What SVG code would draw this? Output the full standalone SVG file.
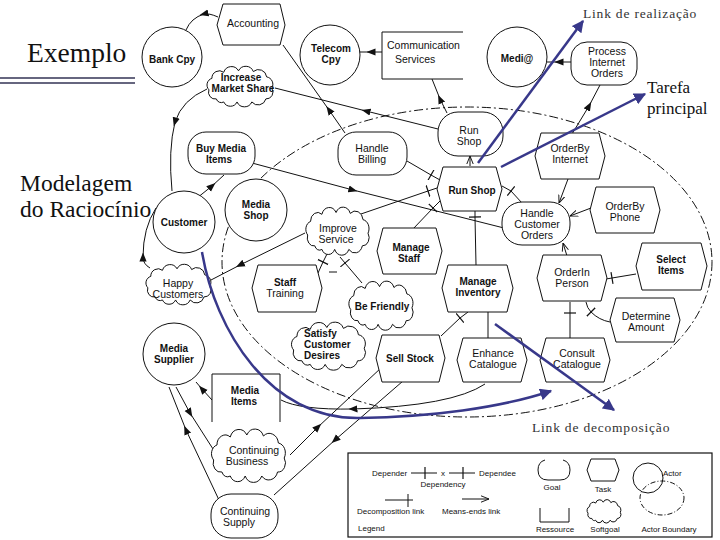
<svg xmlns="http://www.w3.org/2000/svg" xmlns:xlink="http://www.w3.org/1999/xlink" width="720" height="540" viewBox="0 0 720 540">
<style>
.s{fill:#fff;stroke:#111;stroke-width:1}
.n{fill:none;stroke:#111;stroke-width:1}
.t{font-family:"Liberation Sans",Arial,sans-serif;font-size:10.5px;text-anchor:middle;fill:#111}
.b{font-weight:bold;font-size:10px}
.st{text-anchor:start}
.lg{font-family:"Liberation Sans",Arial,sans-serif;font-size:8px;fill:#111}
.dep{fill:none;stroke:#111;stroke-width:1;marker-mid:url(#dep)}
.dec{fill:none;stroke:#111;stroke-width:1;marker-mid:url(#tick)}
.me{fill:none;stroke:#111;stroke-width:1;marker-end:url(#open)}
.blue{fill:none;stroke:#38388a;stroke-width:2.5;marker-end:url(#bl)}
.srf{font-family:"Liberation Serif","Times New Roman",serif;fill:#111}
.ann{font-family:"Liberation Serif","Times New Roman",serif;font-size:13.5px;letter-spacing:0.8px;fill:#333}
</style>
<defs>
<marker id="dep" viewBox="0 0 10 10" refX="5" refY="5" markerWidth="9" markerHeight="9" markerUnits="userSpaceOnUse" orient="auto"><path d="M0,1 L10,5 L0,9 z" fill="#111"/></marker>
<marker id="tick" viewBox="0 0 10 10" refX="5" refY="5" markerWidth="12" markerHeight="12" markerUnits="userSpaceOnUse" orient="auto"><path d="M5,0 V10" stroke="#111" stroke-width="1"/></marker>
<marker id="open" viewBox="0 0 10 10" refX="10" refY="5" markerWidth="8" markerHeight="8" markerUnits="userSpaceOnUse" orient="auto"><path d="M0,1 L10,5 L0,9" fill="none" stroke="#111" stroke-width="1.2"/></marker>
<marker id="bl" viewBox="0 0 10 10" refX="9" refY="5" markerWidth="12" markerHeight="12" markerUnits="userSpaceOnUse" orient="auto"><path d="M0,0 L10,5 L0,10 z" fill="#38388a"/></marker>
<symbol id="cloud" viewBox="0 0 100 50" preserveAspectRatio="none" overflow="visible">
<path vector-effect="non-scaling-stroke" fill="#fff" stroke="#111" stroke-width="1" d="M18,42 A9,9 0 0 1 8,30 A9,9 0 0 1 12,15 A10,10 0 0 1 28,7 A11,11 0 0 1 48,5 A11,11 0 0 1 68,6 A11,11 0 0 1 86,13 A10,10 0 0 1 93,28 A9,9 0 0 1 85,42 A11,11 0 0 1 66,46 A11,11 0 0 1 46,46 A10,10 0 0 1 28,46 A7,7 0 0 1 18,42 Z"/>
</symbol>
</defs>
<rect width="720" height="540" fill="#fff"/>

<!-- header texts -->
<text class="srf" x="27" y="62" font-size="27.5">Exemplo</text>
<line x1="0" y1="78" x2="135" y2="78" stroke="#333355" stroke-width="1.3"/>
<line x1="0" y1="83" x2="135" y2="83" stroke="#333355" stroke-width="1.3"/>
<text class="srf" x="20" y="191" font-size="23.5">Modelagem</text>
<text class="srf" x="20" y="217" font-size="23.5">do Raciocínio</text>

<!-- actor boundary -->
<ellipse cx="467" cy="262" rx="245" ry="155" fill="none" stroke="#111" stroke-width="1" stroke-dasharray="9 3 2 3"/>

<!-- connectors -->
<g id="connectors">
<path class="dep" d="M218,17 Q209,13 204,14 Q191,18 186,30"/>
<path class="dep" d="M345,133 L329,110 L283,45"/>
<path class="dep" d="M382,52 L371,52 L359,52"/>
<path class="dep" d="M447,113 L440,99 L432,79"/>
<path class="dep" d="M571,62 L559,62 L547,62"/>
<path class="dep" d="M572,134 L589,106 L600,85"/>
<path class="dep" d="M438,129 L366,111 L275,88"/>
<path class="dep" d="M207,89 Q182,100 175,122 Q168,150 172,191"/>
<path class="dep" d="M150,268 Q143,264 143,257 Q143,228 156,208"/>
<path class="dep" d="M305,233 L240,265 L211,280"/>
<path class="dep" d="M197,198 L212,186 L224,175"/>
<path class="dep" d="M252,163 L353,190 L504,228"/>
<path class="dep" d="M212,400 L202,389 L196,382"/>
<path class="dep" d="M219,500 L186,430 L169,387"/>
<path class="dep" d="M176,387 L190,413 L213,449"/>
<path class="dep" d="M290,455 L318,427 L382,367"/>
<path class="dep" d="M403,381 L335,440 L274,495"/>
<path class="dep" d="M485,384 Q452,406 353,409 Q300,410 281,400"/>
<path class="dec" d="M407,161 L431,175 L440,180"/>
<path class="dec" d="M358,215 L428,191 L440,187"/>
<path class="dec" d="M413,229 L433,208 L441,200"/>
<path class="dec" d="M476,265 L475,217 L475,211"/>
<path class="dec" d="M522,203 L511,191 L502,186"/>
<path class="dec" d="M636,274 L612,278 L606,279"/>
<path class="dec" d="M586,302 Q587,308 591,312 Q599,320 610,322"/>
<path class="dec" d="M570,338 L570,313 L570,302"/>
<path class="n" d="M488,338 L488,312"/>
<path class="dec" d="M441,336 L460,318 L468,312"/>
<path class="me" d="M470,166 L470,156"/>
<path class="me" d="M568,179 L559,203"/>
<path class="me" d="M591,208 L570,216"/>
<path class="me" d="M567,256 L563,243"/>
<path class="dec" d="M327,254 L323,262 L318,273"/>
<line x1="329" y1="272" x2="337" y2="272" stroke="#111" stroke-width="1"/>
<path class="dec" d="M340,257 L345,263 L362,283"/>
</g>

<!-- nodes -->
<g id="accounting"><polygon class="s" points="217,25 223,4 280,4 285,25 280,45 223,45"/><text class="t" x="253" y="27">Accounting</text></g>
<g id="bank-cpy"><circle class="s" cx="172" cy="57" r="30"/><text class="t b" x="172" y="63">Bank Cpy</text></g>
<g id="telecom-cpy"><circle class="s" cx="330" cy="55" r="30"/><text class="t b" x="331" y="52">Telecom</text><text class="t b" x="331" y="63">Cpy</text></g>
<g id="communication-services"><path class="s" d="M463,32 H382 V79 H463"/><text class="t st" x="387" y="49">Communication</text><text class="t st" x="395" y="63">Services</text></g>
<g id="medi"><circle class="s" cx="517" cy="57" r="30"/><text class="t b" x="517" y="62">Medi@</text></g>
<g id="process-internet-orders"><rect class="s" x="571" y="42" width="66" height="43" rx="16"/><text class="t" x="607" y="55">Process</text><text class="t" x="607" y="66">Internet</text><text class="t" x="607" y="77">Orders</text></g>
<g id="increase-market-share"><use xlink:href="#cloud" href="#cloud" x="203" y="67" width="74" height="38"/><text class="t b" x="241" y="81">Increase</text><text class="t b" x="243" y="92">Market Share</text></g>
<g id="run-shop-goal"><rect class="s" x="438" y="112" width="65" height="44" rx="20"/><text class="t" x="469" y="134">Run</text><text class="t" x="469" y="145">Shop</text></g>
<g id="handle-billing"><rect class="s" x="338" y="132" width="69" height="43" rx="18"/><text class="t" x="372" y="152">Handle</text><text class="t" x="372" y="163">Billing</text></g>
<g id="buy-media-items"><rect class="s" x="188" y="132" width="67" height="42" rx="18"/><text class="t b" x="221" y="152">Buy Media</text><text class="t b" x="219" y="163">Items</text></g>
<g id="orderby-internet"><polygon class="s" points="535,156 541,133 599,133 605,156 599,179 541,179"/><text class="t" x="570" y="152">OrderBy</text><text class="t" x="570" y="163">Internet</text></g>
<g id="run-shop-task"><polygon class="s" points="437,189 443,167 496,167 502,189 496,211 443,211"/><text class="t b" x="472" y="194">Run Shop</text></g>
<g id="customer"><circle class="s" cx="184" cy="222" r="31"/><text class="t b" x="184" y="226">Customer</text></g>
<g id="media-shop"><circle class="s" cx="256" cy="210" r="31"/><text class="t b" x="256" y="208">Media</text><text class="t b" x="256" y="219">Shop</text></g>
<g id="improve-service"><use xlink:href="#cloud" href="#cloud" x="302" y="208" width="71" height="45"/><text class="t" x="338" y="232">Improve</text><text class="t" x="336" y="243">Service</text></g>
<g id="handle-customer-orders"><rect class="s" x="502" y="202" width="68" height="43" rx="20"/><text class="t" x="537" y="217">Handle</text><text class="t" x="537" y="228">Customer</text><text class="t" x="537" y="239">Orders</text></g>
<g id="orderby-phone"><polygon class="s" points="590,210 596,187 654,187 660,210 654,233 596,233"/><text class="t" x="625" y="210">OrderBy</text><text class="t" x="625" y="221">Phone</text></g>
<g id="manage-staff"><polygon class="s" points="377,251 383,228 436,228 442,251 436,274 383,274"/><text class="t b" x="411" y="251">Manage</text><text class="t b" x="409" y="262">Staff</text></g>
<g id="happy-customers"><use xlink:href="#cloud" href="#cloud" x="142" y="265" width="73" height="38"/><text class="t" x="178" y="287">Happy</text><text class="t" x="178" y="298">Customers</text></g>
<g id="staff-training"><polygon class="s" points="252,288 258,265 316,265 322,288 316,312 258,312"/><text class="t b" x="285" y="286">Staff</text><text class="t" x="285" y="297">Training</text></g>
<g id="manage-inventory"><polygon class="s" points="442,288 448,265 507,265 513,288 507,312 448,312"/><text class="t b" x="478" y="285">Manage</text><text class="t b" x="478" y="296">Inventory</text></g>
<g id="orderin-person"><polygon class="s" points="537,278 543,255 601,255 607,278 601,301 543,301"/><text class="t" x="572" y="276">OrderIn</text><text class="t" x="572" y="287">Person</text></g>
<g id="select-items"><polygon class="s" points="636,266 642,243 701,243 707,266 701,290 642,290"/><text class="t b" x="671" y="263">Select</text><text class="t b" x="671" y="274">Items</text></g>
<g id="be-friendly"><use xlink:href="#cloud" href="#cloud" x="345" y="282" width="72" height="46"/><text class="t b" x="382" y="310">Be Friendly</text></g>
<g id="determine-amount"><polygon class="s" points="610,320 616,298 674,298 680,320 674,342 616,342"/><text class="t" x="646" y="320">Determine</text><text class="t" x="646" y="331">Amount</text></g>
<g id="satisfy-customer-desires"><use xlink:href="#cloud" href="#cloud" x="287" y="323" width="83" height="45"/><text class="t b st" x="304" y="337">Satisfy</text><text class="t b st" x="304" y="348">Customer</text><text class="t b st" x="304" y="359">Desires</text></g>
<g id="media-supplier"><circle class="s" cx="174" cy="354" r="31"/><text class="t b" x="174" y="352">Media</text><text class="t b" x="174" y="363">Supplier</text></g>
<g id="sell-stock"><polygon class="s" points="376,358 382,335 439,335 445,358 439,382 382,382"/><text class="t b" x="410" y="362">Sell Stock</text></g>
<g id="enhance-catalogue"><polygon class="s" points="457,360 463,338 521,338 527,360 521,382 463,382"/><text class="t" x="493" y="357">Enhance</text><text class="t" x="493" y="368">Catalogue</text></g>
<g id="consult-catalogue"><polygon class="s" points="540,360 546,338 604,338 610,360 604,382 546,382"/><text class="t" x="577" y="357">Consult</text><text class="t" x="577" y="368">Catalogue</text></g>
<g id="media-items"><path class="s" d="M212,422 V374 H280 V422"/><text class="t b" x="245" y="394">Media</text><text class="t b" x="244" y="405">Items</text></g>
<g id="continuing-business"><use xlink:href="#cloud" href="#cloud" x="207" y="430" width="83" height="50"/><text class="t" x="254" y="454">Continuing</text><text class="t" x="247" y="465">Business</text></g>
<g id="continuing-supply"><rect class="s" x="211" y="494" width="67" height="44" rx="20"/><text class="t" x="245" y="515">Continuing</text><text class="t" x="239" y="526">Supply</text></g>

<!-- legend -->
<g id="legend">
<rect x="348" y="453" width="364" height="84" fill="none" stroke="#111" stroke-width="1.2"/>
<text class="lg" x="372" y="476">Depender</text>
<path class="dec" d="M411,473 L425,473 L437,473"/>
<text class="lg" x="443" y="476" text-anchor="middle">x</text>
<path class="dec" d="M449,473 L463,473 L475,473"/>
<text class="lg" x="479" y="476">Dependee</text>
<text class="lg" x="443" y="487" text-anchor="middle">Dependency</text>
<line x1="385" y1="500" x2="413" y2="500" stroke="#111"/>
<line x1="408" y1="494" x2="408" y2="507" stroke="#111"/>
<text class="lg" x="357" y="514">Decomposition link</text>
<path class="me" d="M462,499 L489,499"/>
<text class="lg" x="442" y="514">Means-ends link</text>
<text class="lg" x="358" y="531" font-size="11">Legend</text>
<path class="n" d="M545,460 Q538,462 538,470 Q538,480 548,480 L560,480 Q570,480 570,470 Q570,462 563,460"/>
<text class="lg" x="552" y="490" text-anchor="middle">Goal</text>
<polygon class="n" points="587,470 591,459 615,459 619,470 615,481 591,481"/>
<text class="lg" x="603" y="492" text-anchor="middle">Task</text>
<ellipse cx="662" cy="498" rx="22" ry="17" fill="none" stroke="#111" stroke-dasharray="5 2 1 2"/>
<circle cx="648" cy="478" r="15" fill="none" stroke="#111"/>
<text class="lg" x="663" y="476">Actor</text>
<path class="n" d="M540,508 V522 H569 V508"/>
<text class="lg" x="555" y="532" text-anchor="middle">Ressource</text>
<use xlink:href="#cloud" href="#cloud" x="585" y="500" width="38" height="22"/>
<text class="lg" x="605" y="532" text-anchor="middle">Softgoal</text>
<text class="lg" x="669" y="532" text-anchor="middle">Actor Boundary</text>
</g>

<!-- annotations -->
<g id="annotations">
<path class="blue" d="M478,163 L583,21"/>
<path class="blue" d="M501,167 L645,94"/>
<path class="blue" d="M202,252 C215,330 270,420 360,418 C430,417 500,408 551,391"/>
<path class="blue" d="M495,324 L614,410"/>
<text class="ann" x="583" y="18">Link de realização</text>
<text class="srf" x="647" y="93" font-size="17" fill="#2b2b6b">Tarefa</text>
<text class="srf" x="647" y="114" font-size="17" fill="#2b2b6b">principal</text>
<text class="ann" x="532" y="432">Link de decomposição</text>
</g>
</svg>
